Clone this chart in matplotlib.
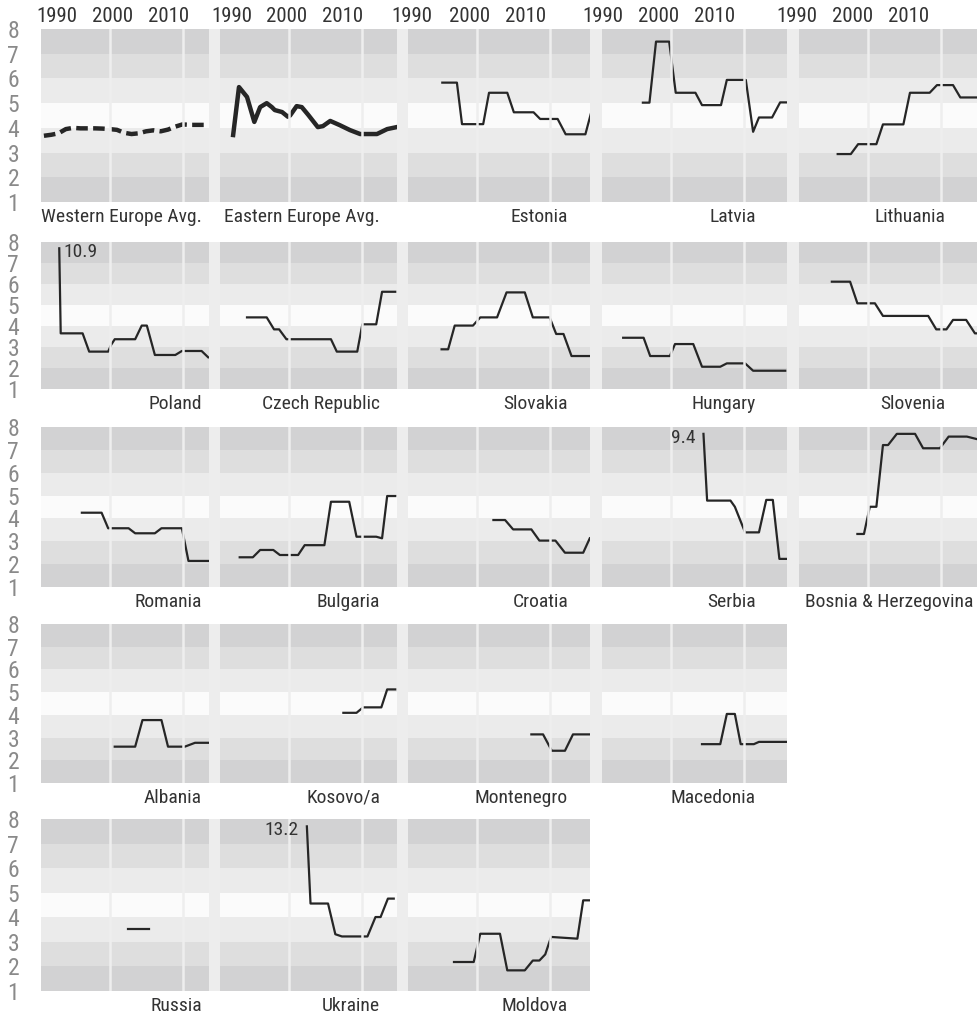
import os
import numpy as np
import matplotlib
matplotlib.use("Agg")
import matplotlib.pyplot as plt
from matplotlib.patches import Rectangle
from matplotlib import font_manager as fm

# ---------------- data (years, values) ----------------
wea_x = [1991, 1992, 1993, 1994, 1995, 1996, 1997, 1998, 1999, 2000, 2001, 2002,
         2003, 2004, 2005, 2006, 2007, 2008, 2009, 2010, 2011, 2012, 2013]
wea_y = [3.68, 3.72, 3.78, 3.95, 4.0, 3.98, 3.98, 3.98, 3.97, 3.95, 3.92, 3.8,
         3.75, 3.78, 3.86, 3.9, 3.86, 3.93, 4.05, 4.14, 4.12, 4.12, 4.12]

eea_x = [1992.4, 1993.2, 1994.3, 1995.3, 1996.1, 1997.0, 1997.7, 1998.1, 1999.1, 1999.9,
         2000.2, 2001.1, 2001.8, 2002.7, 2004.0, 2004.7, 2005.7, 2007.0, 2008.4, 2009.8,
         2012.1, 2013.5, 2014.8]
eea_y = [3.71, 5.65, 5.25, 4.24, 4.84, 5.0, 4.84, 4.72, 4.64, 4.45,
         4.5, 4.88, 4.84, 4.52, 4.03, 4.07, 4.28, 4.11, 3.91, 3.75,
         3.75, 3.95, 4.03]

estonia_x = [1995.3, 1997.3, 1998.0, 2000.9, 2001.7, 2004.2, 2005.1, 2007.8, 2008.7, 2011.1, 2012.2, 2014.9, 2015.7]
estonia_y = [5.83, 5.83, 4.15, 4.15, 5.42, 5.42, 4.63, 4.63, 4.36, 4.36, 3.74, 3.74, 4.63]

latvia_x = [1996.2, 1997.1, 1998.0, 1999.8, 2000.7, 2003.4, 2004.3, 2006.9, 2007.7, 2010.3, 2011.3, 2012.1, 2013.9, 2015.0, 2015.8]
latvia_y = [5.02, 5.02, 7.49, 7.49, 5.42, 5.42, 4.92, 4.92, 5.94, 5.94, 3.84, 4.42, 4.42, 5.03, 5.03]

lithuania_x = [1995.9, 1997.7, 1998.7, 2001.2, 2002.1, 2004.9, 2005.8, 2008.5, 2009.5, 2011.7, 2012.7, 2016.5]
lithuania_y = [2.94, 2.94, 3.34, 3.34, 4.14, 4.14, 5.42, 5.42, 5.73, 5.73, 5.23, 5.23]

poland_x = [1993.1, 1993.3, 1996.3, 1997.2, 1999.8, 2000.2, 2000.7, 2003.5, 2004.4, 2005.1, 2006.2, 2009.0, 2009.9, 2012.6, 2013.5]
poland_y = [10.9, 3.65, 3.65, 2.78, 2.78, 3.1, 3.37, 3.37, 4.02, 4.02, 2.62, 2.62, 2.81, 2.81, 2.51]

czech_x = [1994.3, 1997.0, 1998.0, 1998.7, 1999.7, 2005.8, 2006.6, 2009.4, 2010.1, 2012.0, 2012.8, 2014.6]
czech_y = [4.41, 4.41, 3.84, 3.84, 3.37, 3.37, 2.78, 2.78, 4.08, 4.08, 5.63, 5.63]

slovakia_x = [1995.2, 1996.1, 1997.0, 1999.5, 2000.5, 2002.8, 2004.1, 2006.6, 2007.7, 2010.0, 2010.9, 2011.9, 2013.0, 2015.5]
slovakia_y = [2.89, 2.89, 4.02, 4.02, 4.41, 4.41, 5.6, 5.6, 4.41, 4.41, 3.62, 3.62, 2.57, 2.57]

hungary_x = [1993.5, 1996.3, 1997.2, 1999.9, 2000.6, 2003.1, 2004.3, 2006.8, 2007.7, 2010.2, 2011.3, 2015.7]
hungary_y = [3.44, 3.44, 2.57, 2.57, 3.14, 3.14, 2.06, 2.06, 2.22, 2.22, 1.87, 1.87]

slovenia_x = [1995.1, 1997.6, 1998.6, 2001.0, 2002.1, 2008.3, 2009.4, 2010.8, 2011.7, 2013.5, 2014.7, 2016.5]
slovenia_y = [6.11, 6.11, 5.08, 5.08, 4.48, 4.48, 3.84, 3.84, 4.29, 4.29, 3.65, 3.65]

romania_x = [1996.2, 1998.9, 1999.8, 2002.6, 2003.5, 2006.2, 2007.1, 2009.9, 2010.8, 2013.5]
romania_y = [4.25, 4.25, 3.57, 3.57, 3.35, 3.35, 3.57, 3.57, 2.14, 2.14]

bulgaria_x = [1993.3, 1995.1, 1996.1, 1997.9, 1998.8, 2001.3, 2002.2, 2004.9, 2005.8, 2008.3, 2009.3, 2012.0, 2012.8, 2013.5, 2014.6]
bulgaria_y = [2.30, 2.30, 2.62, 2.62, 2.40, 2.40, 2.83, 2.83, 4.73, 4.73, 3.20, 3.20, 3.13, 4.98, 4.98]

croatia_x = [2002.3, 2003.9, 2005.0, 2007.5, 2008.6, 2010.8, 2012.1, 2014.6, 2015.5]
croatia_y = [3.93, 3.93, 3.52, 3.52, 3.03, 3.03, 2.50, 2.50, 3.13]

serbia_x = [2004.5, 2005.0, 2008.2, 2008.8, 2010.2, 2012.1, 2013.1, 2014.0, 2014.9, 2015.8]
serbia_y = [9.4, 4.78, 4.78, 4.51, 3.39, 3.39, 4.81, 4.81, 2.23, 2.23]

bosnia_x = [1998.6, 1999.5, 2000.3, 2001.2, 2002.1, 2002.8, 2004.0, 2006.5, 2007.6, 2009.9, 2011.1, 2013.6, 2015.1]
bosnia_y = [3.32, 3.32, 4.51, 4.51, 7.21, 7.21, 7.84, 7.84, 7.07, 7.07, 7.58, 7.58, 7.46]

albania_x = [2000.7, 2003.5, 2004.5, 2007.1, 2008.0, 2010.3, 2011.7, 2013.5]
albania_y = [2.6, 2.6, 3.77, 3.77, 2.6, 2.6, 2.77, 2.77]

kosovo_x = [2007.5, 2009.3, 2010.2, 2012.7, 2013.5, 2014.6]
kosovo_y = [4.09, 4.09, 4.33, 4.33, 5.12, 5.12]

montenegro_x = [2007.5, 2009.1, 2010.3, 2012.1, 2013.2, 2015.5]
montenegro_y = [3.14, 3.14, 2.42, 2.42, 3.14, 3.14]

macedonia_x = [2004.3, 2006.8, 2007.7, 2008.8, 2009.6, 2011.4, 2012.1, 2015.8]
macedonia_y = [2.71, 2.71, 4.04, 4.04, 2.71, 2.71, 2.81, 2.81]

russia_x = [2002.5, 2005.4]
russia_y = [3.51, 3.51]

ukraine_x = [2002.5, 2003.0, 2005.4, 2006.4, 2007.3, 2010.8, 2011.9, 2012.6, 2013.6, 2014.4]
ukraine_y = [13.2, 4.56, 4.56, 3.31, 3.22, 3.22, 4.01, 4.01, 4.76, 4.76]

moldova_x = [1996.9, 1999.6, 2000.5, 2003.2, 2004.2, 2006.6, 2007.7, 2008.6, 2009.4, 2010.2, 2013.8, 2014.6, 2015.7]
moldova_y = [2.18, 2.18, 3.33, 3.33, 1.84, 1.84, 2.24, 2.24, 2.49, 3.2, 3.13, 4.69, 4.69]

year_labels = ["1990", "2000", "2010"]
y_ticks = [1, 2, 3, 4, 5, 6, 7, 8]
grid_years = [2000, 2010]

# (row, col, label, x, y, kind)
panels = [
    (0, 0, "Western Europe Avg.", wea_x, wea_y, "avg_dash"),
    (0, 1, "Eastern Europe Avg.", eea_x, eea_y, "avg"),
    (0, 2, "Estonia", estonia_x, estonia_y, "c"),
    (0, 3, "Latvia", latvia_x, latvia_y, "c"),
    (0, 4, "Lithuania", lithuania_x, lithuania_y, "c"),
    (1, 0, "Poland", poland_x, poland_y, "c"),
    (1, 1, "Czech Republic", czech_x, czech_y, "c"),
    (1, 2, "Slovakia", slovakia_x, slovakia_y, "c"),
    (1, 3, "Hungary", hungary_x, hungary_y, "c"),
    (1, 4, "Slovenia", slovenia_x, slovenia_y, "c"),
    (2, 0, "Romania", romania_x, romania_y, "c"),
    (2, 1, "Bulgaria", bulgaria_x, bulgaria_y, "c"),
    (2, 2, "Croatia", croatia_x, croatia_y, "c"),
    (2, 3, "Serbia", serbia_x, serbia_y, "c"),
    (2, 4, "Bosnia & Herzegovina", bosnia_x, bosnia_y, "c"),
    (3, 0, "Albania", albania_x, albania_y, "c"),
    (3, 1, "Kosovo/a", kosovo_x, kosovo_y, "c"),
    (3, 2, "Montenegro", montenegro_x, montenegro_y, "c"),
    (3, 3, "Macedonia", macedonia_x, macedonia_y, "c"),
    (4, 0, "Russia", russia_x, russia_y, "c"),
    (4, 1, "Ukraine", ukraine_x, ukraine_y, "c"),
    (4, 2, "Moldova", moldova_x, moldova_y, "c"),
]

# ---------------- layout / style ----------------
W, H = 978, 1016
rows_px = [(29, 202), (242, 389), (427, 587), (624, 783), (819, 991)]
cols_px = [(41, 209), (220, 397), (408, 590), (602, 787), (799, 984)]
label_right_px = [202, 380, 568, 756, 945]
year_label_px = [[57, 113, 169], [232, 287, 343], [412, 470, 526], [603, 659, 715], [797, 853, 909]]
PX_PER_YEAR = 7.3
X0 = 1990.6
CAP = 7.7
band_colors = ["#d2d2d3", "#dedede", "#ebebeb", "#fbfbfb", "#ebebeb", "#dedede", "#d2d2d3"]
grid_color = "#eeeeee"
line_color = "#262626"


def find_narrow_font():
    entries = fm.fontManager.ttflist
    prefs = ["Liberation Sans Narrow", "Arial Narrow", "Roboto Condensed",
             "Open Sans Condensed", "DejaVu Sans Condensed", "Noto Sans Condensed",
             "PT Sans Narrow", "Ubuntu Condensed"]
    for p in prefs:
        for e in entries:
            if e.name == p and e.style == "normal" and e.weight in (400, "normal", "regular"):
                return e.fname
    for e in entries:
        if (str(e.stretch) in ("condensed", "semi-condensed", "extra-condensed")
                and e.style == "normal" and e.weight in (400, "normal", "regular")):
            return e.fname
    for e in entries:
        b = os.path.basename(e.fname).lower()
        if (("condensed" in b or "narrow" in b) and "bold" not in b and "italic" not in b
                and "oblique" not in b and "light" not in b and "semi" not in b):
            return e.fname
    return None


narrow = find_narrow_font()
if narrow:
    FP = dict(fname=narrow)
    S_LAB, S_YEAR, S_TICK, S_ANN = 14, 15, 17, 14
else:
    FP = dict(family="Liberation Sans")
    S_LAB, S_YEAR, S_TICK, S_ANN = 11.8, 12, 13.5, 11


def fprop(size):
    return fm.FontProperties(size=size, **FP)


fig = plt.figure(figsize=(W / 100, H / 100), dpi=100)
fig.patch.set_facecolor("white")


def fx(px):
    return px / W


def fy(py):
    return 1 - py / H


# gap strips between neighbouring panels
used = {}
for r, c, *_ in panels:
    used.setdefault(r, []).append(c)
for r, cs in used.items():
    top, bot = rows_px[r]
    for c in sorted(cs):
        if c + 1 in cs:
            x0 = cols_px[c][1]
            x1 = cols_px[c + 1][0]
            fig.patches.append(Rectangle((fx(x0), fy(bot)), fx(x1) - fx(x0), fy(top) - fy(bot),
                                         transform=fig.transFigure, facecolor="#ededed",
                                         edgecolor="none", zorder=0))

for r, c, name, xs, ys, kind in panels:
    top, bot = rows_px[r]
    left, right = cols_px[c]
    ax = fig.add_axes([fx(left), fy(bot), (right - left) / W, (bot - top) / H])
    ax.set_xlim(X0, X0 + (right - left) / PX_PER_YEAR)
    ax.set_ylim(1, 8)
    for i, col in enumerate(band_colors):
        ax.axhspan(1 + i, 2 + i, color=col, lw=0, zorder=0)
    for g in grid_years:
        ax.axvline(g, color=grid_color, lw=1.8, zorder=3)
    for s in ax.spines.values():
        s.set_visible(False)
    ax.set_xticks([])
    if c == 0:
        ax.set_yticks(y_ticks)
        ax.set_yticklabels([str(v) for v in y_ticks])
        ax.tick_params(axis="y", length=0, pad=20, labelcolor="#8a8a8a")
        for t in ax.get_yticklabels():
            t.set_fontproperties(fprop(S_TICK))
            t.set_horizontalalignment("center")
    else:
        ax.set_yticks([])

    xs = np.asarray(xs, float)
    ys = np.asarray(ys, float)
    if kind == "avg_dash":
        ax.plot(xs, ys, color=line_color, lw=3.2, ls=(0, (2.6, 1.2)), zorder=2)
    elif kind == "avg":
        ax.plot(xs, ys, color=line_color, lw=3.2, zorder=2, solid_joinstyle="round")
    else:
        ax.plot(xs, np.minimum(ys, CAP), color=line_color, lw=1.6, zorder=2)
        if ys.max() > 8:
            k = int(np.argmax(ys))
            if name == "Poland":
                ax.text(xs[k] + 0.6, 7.95, f"{ys[k]:.1f}", ha="left", va="top",
                        fontproperties=fprop(S_ANN), color="#333333", zorder=4)
            else:
                ax.text(xs[k] - 1.1, 7.9, f"{ys[k]:.1f}", ha="right", va="top",
                        fontproperties=fprop(S_ANN), color="#333333", zorder=4)

    anchor = label_right_px[c] if name != "Bosnia & Herzegovina" else 973
    fig.text(fx(anchor), fy(bot + 15), name, ha="right", va="center",
             fontproperties=fprop(S_LAB), color="#333333")

    if r == 0:
        for lab, px in zip(year_labels, year_label_px[c]):
            fig.text(fx(px), fy(17), lab, ha="center", va="center",
                     fontproperties=fprop(S_YEAR), color="#333333")

fig.savefig("out.png", dpi=100, facecolor="white")
